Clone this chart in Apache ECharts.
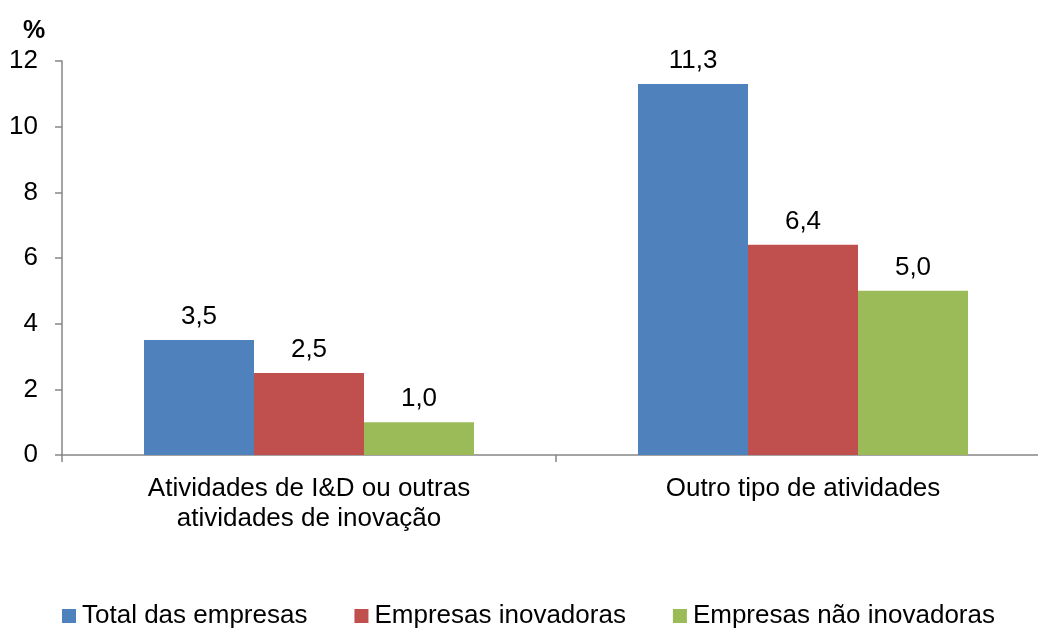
<!DOCTYPE html>
<html>
<head>
<meta charset="utf-8">
<script src="https://cdn.jsdelivr.net/npm/echarts@6/dist/echarts.min.js"></script>
<style>
  html, body { margin: 0; padding: 0; background: #fff; overflow: hidden; }
  /* the plot runs slightly past the right edge of the window */
  #chart { width: 1050px; height: 628px; }
</style>
</head>
<body>
<div id="chart"></div>
<script>
// Categories and series values (percent)
const categories = ['Atividades de I&D ou outras\natividades de inovação', 'Outro tipo de atividades'];
const seriesNames = ['Total das empresas', 'Empresas inovadoras', 'Empresas não inovadoras'];
const totalEmpresas = [3.5, 11.3];
const empresasInovadoras = [2.5, 6.4];
const empresasNaoInovadoras = [1.0, 5.0];
const seriesColors = ['#4F81BD', '#C0504D', '#9BBB59'];
const yTicks = { min: 0, max: 12, interval: 2 };

const font = 'Liberation Sans, Arial, sans-serif';
const fs = 26;
const fmt = v => v.toFixed(1).replace('.', ',');

function barSeries(name, data, color) {
  return {
    name: name,
    type: 'bar',
    data: data,
    barWidth: 110,
    barGap: '0%',
    itemStyle: { color: color },
    label: {
      show: true,
      position: 'top',
      distance: 10,
      color: '#000',
      fontFamily: font,
      fontSize: fs,
      formatter: p => fmt(p.value)
    }
  };
}

const chart = echarts.init(document.getElementById('chart'), null, { renderer: 'canvas' });
chart.setOption({
  backgroundColor: '#fff',
  animation: false,
  title: {
    text: '%',
    left: 18,
    top: 14,
    textStyle: { fontFamily: font, fontSize: 25, fontWeight: 'bold', color: '#000' }
  },
  legend: {
    data: seriesNames,
    left: 62,
    top: 603,
    padding: 0,
    itemWidth: 14,
    itemHeight: 14,
    itemGap: 47,
    icon: 'rect',
    textStyle: { fontFamily: font, fontSize: fs, color: '#000', padding: [0, 0, 0, 1] }
  },
  grid: { left: 62, right: 0, top: 61, height: 394, containLabel: false },
  xAxis: {
    type: 'category',
    data: categories,
    axisLine: { lineStyle: { color: '#868686', width: 1.5 } },
    axisTick: { show: true, length: 7, interval: 0, lineStyle: { color: '#868686', width: 1.5 } },
    axisLabel: {
      color: '#000',
      fontFamily: font,
      fontSize: fs,
      lineHeight: 30,
      margin: 19,
      interval: 0
    }
  },
  yAxis: {
    type: 'value',
    min: yTicks.min,
    max: yTicks.max,
    interval: yTicks.interval,
    splitLine: { show: false },
    axisLine: { show: true, lineStyle: { color: '#868686', width: 1.5 } },
    axisTick: { show: true, length: 7, lineStyle: { color: '#868686', width: 1.5 } },
    axisLabel: { color: '#000', fontFamily: font, fontSize: fs, margin: 24 }
  },
  series: [
    barSeries(seriesNames[0], totalEmpresas, seriesColors[0]),
    barSeries(seriesNames[1], empresasInovadoras, seriesColors[1]),
    barSeries(seriesNames[2], empresasNaoInovadoras, seriesColors[2])
  ]
});
</script>
</body>
</html>
